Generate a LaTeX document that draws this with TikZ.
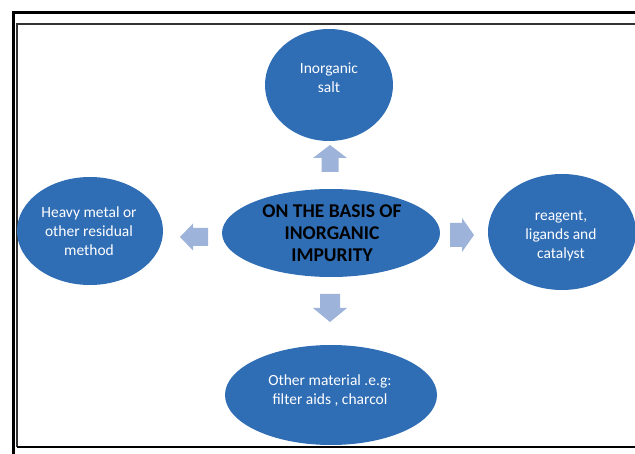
\documentclass[tikz,border=0pt]{standalone}
\usepackage{fontspec}
\setmainfont{Carlito}
\usetikzlibrary{shapes.geometric}
\definecolor{ellblue}{HTML}{2F6DB5}
\definecolor{arrblue}{HTML}{9DB3D9}
\begin{document}
\begin{tikzpicture}[x=1pt,y=-1pt,
  blob/.style={ellipse, fill=ellblue, draw=none, inner sep=0pt},
  whitetxt/.style={text=white, align=center, font=\fontsize{15.5}{19}\selectfont},
  blacktxt/.style={text=black, align=center, font=\fontsize{19.5}{22}\selectfont\bfseries},
  blockarrow/.style={fill=arrblue, draw=none}]
\useasboundingbox (0,0) rectangle (635,454);
% frames
\draw[line width=3pt] (13,454) -- (13,13) -- (640,13);
\draw[line width=2pt, black!80] (640,24) -- (16.5,24) -- (16.5,447);
\draw[line width=2.5pt] (16.5,447) -- (640,447);
% ellipses
\node[blob, minimum width=128, minimum height=112] (salt) at (329,85) {};
\node[blob, minimum width=218, minimum height=88] (basis) at (331,233) {};
\node[blob, minimum width=146, minimum height=108] (heavy) at (90,231) {};
\node[blob, minimum width=148, minimum height=116] (reag) at (562,232) {};
\node[blob, minimum width=212, minimum height=100] (other) at (331,395) {};
% texts
\node[whitetxt] (saltt) at (329,78) {Inorganic\\salt};
\node[blacktxt] (basist) at (332,233) {ON THE BASIS OF\\INORGANIC\\IMPURITY};
\node[whitetxt] (heavyt) at (89,231) {Heavy metal or\\other residual\\method};
\node[whitetxt] (reagt) at (561,236) {reagent,\\ligands and\\catalyst};
\node[whitetxt] (othert) at (330,391) {Other material .e.g:\\filter aids , charcol};
% block arrows
\fill[blockarrow] (330,145) -- (347,158) -- (338.5,158) -- (338.5,172) -- (321.5,172) -- (321.5,158) -- (313,158) -- cycle;
\fill[blockarrow] (330,322) -- (347,308) -- (340,308) -- (340,294) -- (320,294) -- (320,308) -- (313,308) -- cycle;
\fill[blockarrow] (180,237) -- (193,223.5) -- (193,228) -- (208,228) -- (208,246) -- (193,246) -- (193,250.5) -- cycle;
\fill[blockarrow] (474,235) -- (462,218) -- (462,223) -- (450,223) -- (450,247) -- (462,247) -- (462,252) -- cycle;
\end{tikzpicture}
\end{document}
